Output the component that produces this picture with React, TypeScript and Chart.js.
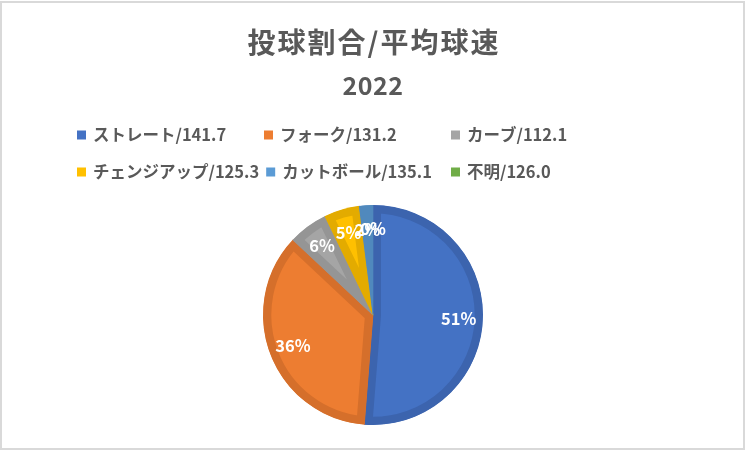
import { useEffect, useRef } from 'react';
import Chart from 'chart.js/auto';

const chartTitle = '投球割合/平均球速';
const chartSubtitle = '2022';
const pitchTypes = ['ストレート', 'フォーク', 'カーブ', 'チェンジアップ', 'カットボール', '不明'];
const avgSpeeds = ['141.7', '131.2', '112.1', '125.3', '135.1', '126.0'];
const pitchCounts = [512, 357, 58, 52, 20, 0];

const fillColors = ['#4472C4', '#ED7D31', '#A5A5A5', '#FFC000', '#5B9BD5', '#70AD47'];
const edgeColors = ['#3C64AE', '#D56F2B', '#959595', '#E3AB00', '#5089BD', '#63993F'];

const FONT = '"Noto Sans CJK JP", "Noto Sans", sans-serif';
const TEXT_GRAY = '#595959';

const legendLabels = pitchTypes.map((t, i) => `${t}/${avgSpeeds[i]}`);

// titles drawn by hand so the layout padding only shapes the pie
const titles = {
    id: 'titles',
    afterDraw(chart: Chart) {
        const ctx = chart.ctx as any;
        ctx.save();
        ctx.fillStyle = TEXT_GRAY;
        ctx.textAlign = 'center';
        ctx.textBaseline = 'middle';
        ctx.font = `bold 28px ${FONT}`;
        ctx.letterSpacing = '2px';
        ctx.fillText(chartTitle, 374, 42);
        ctx.letterSpacing = '0.5px';
        ctx.font = `bold 25px ${FONT}`;
        ctx.fillText(chartSubtitle, 373, 85);
        ctx.restore();
    }
};

// Excel-like legend: 3 fixed columns, an item is pushed right when the previous text overflows
const gridLegend = {
    id: 'gridLegend',
    afterDraw(chart: Chart) {
        const ctx = chart.ctx as any;
        const colX = [77, 264, 451];
        const rowY = [135, 172];
        const box = 9;
        let prevEnd = 0;
        ctx.save();
        ctx.font = `bold 16.5px ${FONT}`;
        ctx.textBaseline = 'middle';
        ctx.textAlign = 'left';
        legendLabels.forEach((label, i) => {
            const row = Math.floor(i / 3);
            const col = i % 3;
            let x = colX[col];
            if (col > 0 && x < prevEnd + 7) x = prevEnd + 7;
            const y = rowY[row];
            ctx.fillStyle = fillColors[i];
            ctx.fillRect(x, y - box / 2, box, box);
            ctx.fillStyle = TEXT_GRAY;
            ctx.fillText(label, x + box + 7, y);
            prevEnd = x + box + 7 + ctx.measureText(label).width;
        });
        ctx.restore();
    }
};

const sliceLabels = {
    id: 'sliceLabels',
    afterDatasetsDraw(chart: Chart) {
        const ctx = chart.ctx;
        const data = chart.data.datasets[0].data as number[];
        const total = data.reduce((a, b) => a + b, 0);
        const arcs = chart.getDatasetMeta(0).data;
        ctx.save();
        ctx.font = `bold 16.5px ${FONT}`;
        ctx.fillStyle = '#ffffff';
        ctx.textAlign = 'center';
        ctx.textBaseline = 'middle';
        arcs.forEach((arc, i) => {
            const { x, y, startAngle, endAngle, outerRadius } = (arc as any).getProps(
                ['x', 'y', 'startAngle', 'endAngle', 'outerRadius'], true
            );
            const mid = (startAngle + endAngle) / 2;
            const r = outerRadius * 0.78;
            const pct = Math.round((data[i] / total) * 100) + '%';
            ctx.fillText(pct, x + Math.cos(mid) * r, y + Math.sin(mid) * r);
        });
        ctx.restore();
    }
};

const App = () => {
    const canvas = useRef<HTMLCanvasElement>(null);

    useEffect(() => {
        const chart = new Chart(
            // @ts-expect-error next
            canvas.current,
            {
                type: 'pie',
                data: {
                    labels: pitchTypes,
                    datasets: [{
                        data: pitchCounts,
                        backgroundColor: fillColors,
                        borderColor: edgeColors,
                        borderWidth: 8,
                        borderAlign: 'inner',
                        hoverOffset: 0,
                        offset: 0
                    }]
                },
                options: {
                    responsive: false,
                    animation: false,
                    layout: {
                        padding: { top: 205, bottom: 25, left: 0, right: 0 }
                    },
                    plugins: {
                        legend: { display: false },
                        tooltip: { enabled: false },
                        title: { display: false },
                        subtitle: { display: false }
                    }
                },
                plugins: [titles, gridLegend, sliceLabels]
            }
        );

        return () => {
            chart.destroy();
        };
    }, []);

    return (
        <div style={{ position: 'fixed', left: 0, top: 0, width: 746, height: 450, background: '#fff' }}>
            <canvas ref={canvas} width={746} height={450} style={{ position: 'absolute', left: 0, top: 0 }} />
            <div style={{
                position: 'absolute', left: 0, top: 1, width: 745, height: 449,
                border: '2px solid #d9d9d9', boxSizing: 'border-box', pointerEvents: 'none'
            }} />
        </div>
    );
};

export default App;
